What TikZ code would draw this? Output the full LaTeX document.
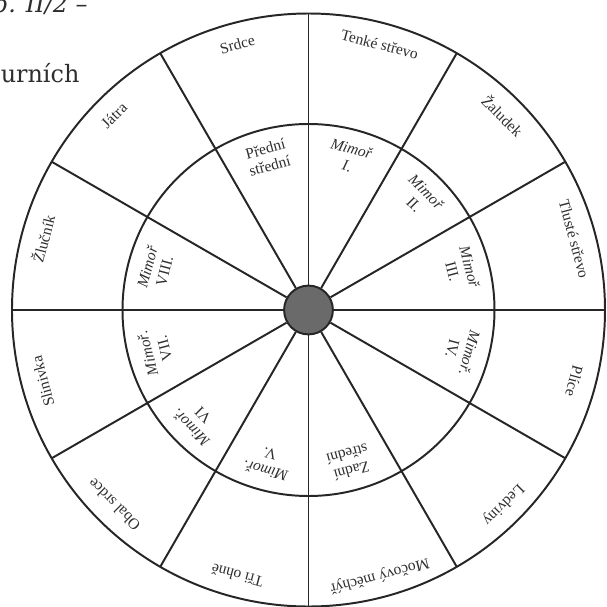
\documentclass[tikz,border=0pt]{standalone}
\usepackage{fontspec}
\setmainfont{Liberation Serif}
\newfontfamily\pagefont{DejaVu Serif}
\usepackage{tikz}
\usetikzlibrary{positioning,calc}
\usepackage{xcolor}
\definecolor{wink}{HTML}{262626}
\definecolor{whub}{HTML}{6A6A6A}
\definecolor{wtext}{HTML}{2E2E2E}
\tikzset{
  rim/.style={draw=wink, line width=1.4pt},
  hub/.style={circle, draw=wink, fill=whub, line width=1.4pt, minimum size=1.22cm, inner sep=0pt},
  organ/.style={text=wtext, font=\fontsize{11}{12.5}\selectfont, inner sep=0pt, align=center},
  pagetext/.style={text=wtext, font=\pagefont\fontsize{17}{20}\selectfont, inner sep=0pt}
}

\begin{document}
\begin{tikzpicture}[x=0.025cm, y=0.025cm]
\useasboundingbox (-308.5,-297) rectangle (298.5,310);
% ---------- cut-off text of the page ----------
\node[pagetext, font=\pagefont\itshape\fontsize{17}{20}\selectfont, anchor=base east] (pgtop) at (-220.5,298) {b. II/2 –};
\node[pagetext, anchor=base west] (pgline) at (-308,228) {urních};
% ---------- wheel ----------
\draw[rim] (0,0) circle (296.5);
\draw[rim] (0,0) circle (186);
\node[hub] (hub) at (0,0) {};
\foreach \a in {0,30,...,330}{
  \draw[rim] (hub.\a) -- (\a:296.5);
}
% ---------- outer ring: organs ----------
\foreach \a/\lb in {105/{Srdce}, 75/{Tenké střevo}, 45/{Žaludek}, 15/{Tlusté střevo},
                    -15/{Plíce}, -45/{Ledviny}, -75/{Močový měchýř}, -105/{Tři ohně},
                    -135/{Obal srdce}, -165/{Slinivka}, 165/{Žlučník}, 135/{Játra}}{
  \node[organ, rotate=\a-90] at (\a:275) {\lb};
}
% ---------- inner ring: extra meridians ----------
\foreach \a/\lb in {105/{Přední\\střední}, 75/{\textit{Mimoř}\\\textit{I.}},
                    45/{\textit{Mimoř}\\II.}, 15/{\textit{Mimoř}\\III.},
                    -15/{\textit{Mimoř.}\\IV.}, -75/{Zadní\\střední},
                    -105/{\textit{Mimoř.}\\V.}, -135/{\textit{Mimoř.}\\VI},
                    -165/{\textit{Mimoř.}\\VII.}, 165/{\textit{Mimoř}\\VIII.}}{
  \node[organ, rotate=\a-90] at (\a:158) {\lb};
}
\end{tikzpicture}
\end{document}
